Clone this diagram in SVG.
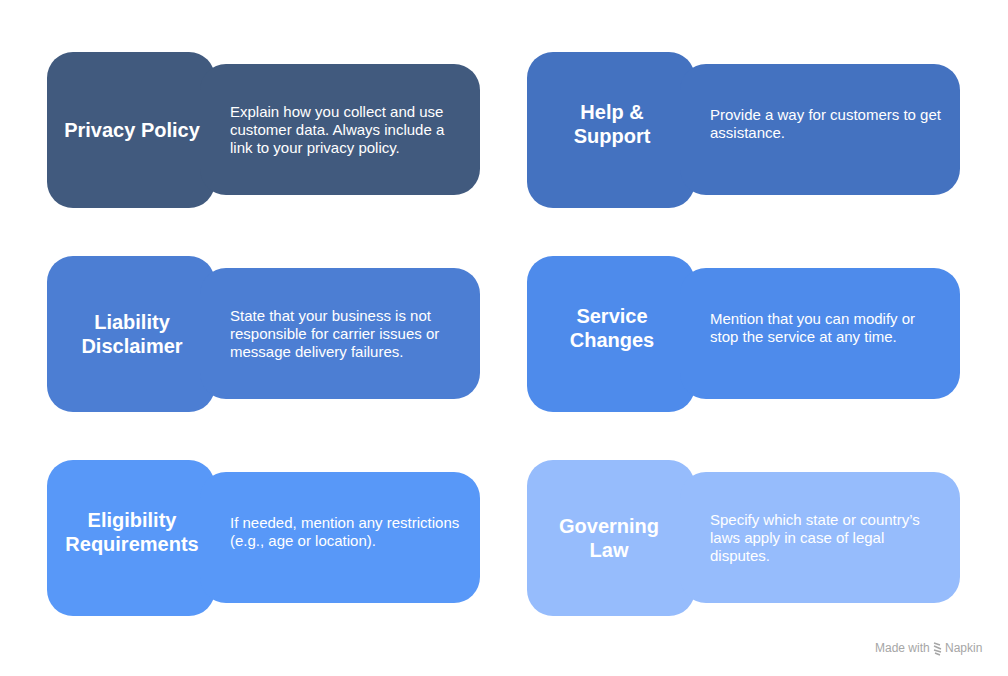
<svg xmlns="http://www.w3.org/2000/svg" width="1008" height="676" viewBox="0 0 1008 676">
<style>
.t{font-family:"Liberation Sans",Arial,sans-serif;font-weight:bold;font-size:20px;fill:#fff;text-anchor:middle}
.d{font-family:"Liberation Sans",Arial,sans-serif;font-size:15px;fill:#fff}
.w{font-family:"Liberation Sans",Arial,sans-serif;font-size:12px;fill:#a6a6a6}
</style>
<rect width="1008" height="676" fill="#fff"/>
<g id="privacy-policy" fill="#415A7E">
<rect x="47" y="52" width="168" height="156" rx="26"/>
<rect x="200" y="64" width="280" height="131" rx="26"/>
<text class="t" x="132" y="137">Privacy Policy</text>
<text class="d" x="230" y="117">Explain how you collect and use</text>
<text class="d" x="230" y="135">customer data. Always include a</text>
<text class="d" x="230" y="153">link to your privacy policy.</text>
</g>
<g id="help-support" fill="#4472C0">
<rect x="527" y="52" width="168" height="156" rx="26"/>
<rect x="680" y="64" width="280" height="131" rx="26"/>
<text class="t" x="612" y="119">Help &amp;</text>
<text class="t" x="612" y="143">Support</text>
<text class="d" x="710" y="120">Provide a way for customers to get</text>
<text class="d" x="710" y="138">assistance.</text>
</g>
<g id="liability-disclaimer" fill="#4C7ED3">
<rect x="47" y="256" width="168" height="156" rx="26"/>
<rect x="200" y="268" width="280" height="131" rx="26"/>
<text class="t" x="132" y="329">Liability</text>
<text class="t" x="132" y="353">Disclaimer</text>
<text class="d" x="230" y="321">State that your business is not</text>
<text class="d" x="230" y="339">responsible for carrier issues or</text>
<text class="d" x="230" y="357">message delivery failures.</text>
</g>
<g id="service-changes" fill="#4E8BEB">
<rect x="527" y="256" width="168" height="156" rx="26"/>
<rect x="680" y="268" width="280" height="131" rx="26"/>
<text class="t" x="612" y="323">Service</text>
<text class="t" x="612" y="347">Changes</text>
<text class="d" x="710" y="324">Mention that you can modify or</text>
<text class="d" x="710" y="342">stop the service at any time.</text>
</g>
<g id="eligibility-requirements" fill="#5898F8">
<rect x="47" y="460" width="168" height="156" rx="26"/>
<rect x="200" y="472" width="280" height="131" rx="26"/>
<text class="t" x="132" y="527">Eligibility</text>
<text class="t" x="132" y="551">Requirements</text>
<text class="d" x="230" y="528">If needed, mention any restrictions</text>
<text class="d" x="230" y="546">(e.g., age or location).</text>
</g>
<g id="governing-law" fill="#96BCFC">
<rect x="527" y="460" width="168" height="156" rx="26"/>
<rect x="680" y="472" width="280" height="131" rx="26"/>
<text class="t" x="609" y="533">Governing</text>
<text class="t" x="609" y="557">Law</text>
<text class="d" x="710" y="525">Specify which state or country’s</text>
<text class="d" x="710" y="543">laws apply in case of legal</text>
<text class="d" x="710" y="561">disputes.</text>
</g>
<g id="connectors"></g>
<g id="watermark">
<text class="w" x="875" y="652">Made with</text>
<g stroke="#a6a6a6" stroke-width="1.4" fill="none">
<path d="M934 643 L940 645 M934 646 L941 649 M934 650 L941 652 M935 653 L940 655"/>
</g>
<text class="w" x="945" y="652">Napkin</text>
</g>
</svg>
